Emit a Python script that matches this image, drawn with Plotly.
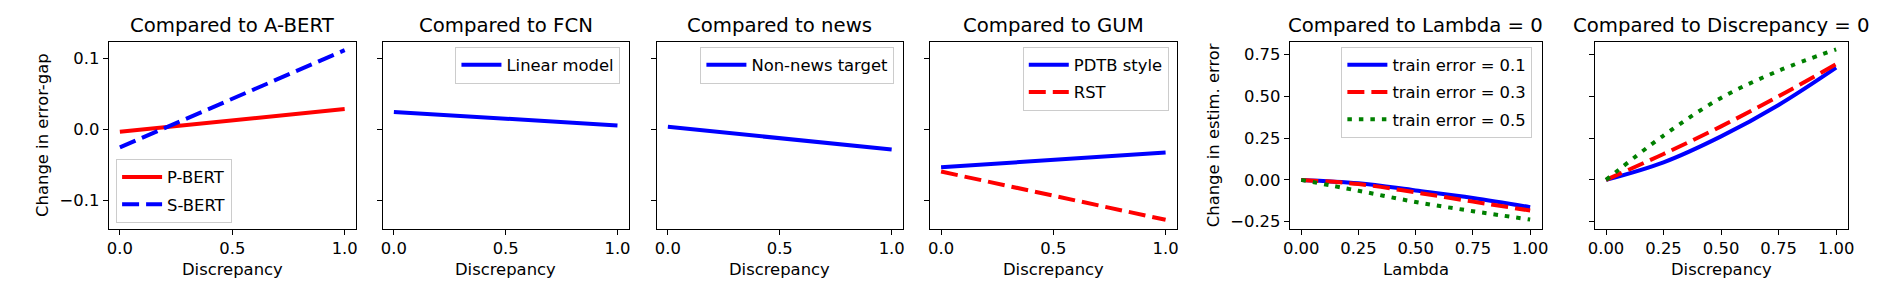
import plotly.graph_objects as go

# ---------------- data ----------------
disc2 = [0.0, 1.0]
pbert = [-0.003, 0.029]
sbert = [-0.025, 0.112]
linear_model = [0.025, 0.006]
non_news = [0.004, -0.028]
pdtb_style = [-0.053, -0.032]
rst = [-0.059, -0.127]

xs5 = [0.0, 0.25, 0.5, 0.75, 1.0]
lam_te01 = [0.0, -0.020, -0.063, -0.108, -0.163]
lam_te03 = [0.0, -0.025, -0.075, -0.130, -0.183]
lam_te05 = [0.0, -0.065, -0.132, -0.187, -0.237]
disc_te01 = [0.0, 0.105, 0.260, 0.448, 0.671]
disc_te03 = [0.0, 0.155, 0.320, 0.500, 0.691]
disc_te05 = [0.0, 0.265, 0.490, 0.652, 0.780]

titles = ["Compared to A-BERT", "Compared to FCN", "Compared to news",
          "Compared to GUM", "Compared to Lambda = 0", "Compared to Discrepancy = 0"]
xlabels = ["Discrepancy", "Discrepancy", "Discrepancy", "Discrepancy", "Lambda", "Discrepancy"]
ylabel_left = "Change in error-gap"
ylabel_right = "Change in estim. error"

xt_a_vals = [0.0, 0.5, 1.0]
xt_a_text = ["0.0", "0.5", "1.0"]
xt_b_vals = [0.0, 0.25, 0.5, 0.75, 1.0]
xt_b_text = ["0.00", "0.25", "0.50", "0.75", "1.00"]
yt_a_vals = [-0.1, 0.0, 0.1]
yt_a_text = ["\u22120.1", "0.0", "0.1"]
yt_b_vals = [-0.25, 0.0, 0.25, 0.5, 0.75]
yt_b_text = ["\u22120.25", "0.00", "0.25", "0.50", "0.75"]

# ---------------- layout geometry (pixels) ----------------
W, H = 1900, 300
FONT = "DejaVu Sans"
panels_px = [(102.4, 351.5), (378.5, 626.3), (654.5, 902.5),
             (929.7, 1178.5), (1292.3, 1546.0), (1599.3, 1854.3)]
top_px, bot_px = 42, 231
ydom = [1 - bot_px / H, 1 - top_px / H]

BLUE, RED, GREEN = "#0000ff", "#ff0000", "#008000"
DASH = "17px,7px"
DOT = "4.5px,7px"
LW = 4

fig = go.Figure()

def add(x, y, name, color, dash, idx, legend, group):
    fig.add_trace(go.Scatter(
        x=x, y=y, mode="lines", name=name,
        line=dict(color=color, width=LW, dash=dash,
                  shape="spline" if len(x) > 2 else "linear", smoothing=1.0),
        xaxis="x" if idx == 1 else f"x{idx}",
        yaxis="y" if idx == 1 else f"y{idx}",
        legend=legend, legendgroup=group, showlegend=legend is not None))

add(disc2, pbert, "P-BERT", RED, "solid", 1, "legend", "a1")
add(disc2, sbert, "S-BERT", BLUE, DASH, 1, "legend", "a2")
add(disc2, linear_model, "Linear model", BLUE, "solid", 2, "legend2", "b1")
add(disc2, non_news, "Non-news target", BLUE, "solid", 3, "legend3", "c1")
add(disc2, pdtb_style, "PDTB style", BLUE, "solid", 4, "legend4", "d1")
add(disc2, rst, "RST", RED, DASH, 4, "legend4", "d2")
add(xs5, lam_te01, "train error = 0.1", BLUE, "solid", 5, "legend5", "e1")
add(xs5, lam_te03, "train error = 0.3", RED, DASH, 5, "legend5", "e2")
add(xs5, lam_te05, "train error = 0.5", GREEN, DOT, 5, "legend5", "e3")
add(xs5, disc_te01, "train error = 0.1", BLUE, "solid", 6, None, "f1")
add(xs5, disc_te03, "train error = 0.3", RED, DASH, 6, None, "f2")
add(xs5, disc_te05, "train error = 0.5", GREEN, DOT, 6, None, "f3")

axis_common = dict(showline=True, mirror=True, linecolor="black", linewidth=1,
                   ticks="outside", ticklen=5, tickwidth=1, tickcolor="black",
                   showgrid=False, zeroline=False,
                   tickfont=dict(family=FONT, size=16.4, color="black"))

layout = dict(width=W, height=H, margin=dict(l=0, r=0, t=0, b=0),
              paper_bgcolor="white", plot_bgcolor="white",
              font=dict(family=FONT, size=16.4, color="black"),
              annotations=[])

for i, (x0, x1) in enumerate(panels_px, start=1):
    xk = "xaxis" if i == 1 else f"xaxis{i}"
    yk = "yaxis" if i == 1 else f"yaxis{i}"
    xr = "x" if i == 1 else f"x{i}"
    yr = "y" if i == 1 else f"y{i}"
    if i <= 4:
        xv, xt, yv, yt, yrng = xt_a_vals, xt_a_text, yt_a_vals, yt_a_text, [-0.1395, 0.1241]
    else:
        xv, xt, yv, yt, yrng = xt_b_vals, xt_b_text, yt_b_vals, yt_b_text, [-0.2917, 0.8266]
    layout[xk] = dict(axis_common, domain=[x0 / W, x1 / W], anchor=yr,
                      range=[-0.05, 1.05], tickmode="array", tickvals=xv, ticktext=xt)
    layout[yk] = dict(axis_common, domain=ydom, anchor=xr, range=yrng,
                      tickmode="array", tickvals=yv, ticktext=yt,
                      showticklabels=(i in (1, 5)))
    cx = (x0 + x1) / 2 / W
    layout["annotations"].append(dict(
        text=titles[i - 1], x=cx, y=1 - 26 / H, xref="paper", yref="paper",
        xanchor="center", yanchor="middle", showarrow=False,
        font=dict(family=FONT, size=19.7, color="black")))
    layout["annotations"].append(dict(
        text=xlabels[i - 1], x=cx, y=1 - 272 / H, xref="paper", yref="paper",
        xanchor="center", yanchor="middle", showarrow=False,
        font=dict(family=FONT, size=16.4, color="black")))

ymid = 1 - (top_px + bot_px) / 2 / H
for txt, xpx in ((ylabel_left, 35), (ylabel_right, 1215)):
    layout["annotations"].append(dict(
        text=txt, x=xpx / W, y=ymid, xref="paper", yref="paper",
        xanchor="center", yanchor="middle", showarrow=False, textangle=-90,
        font=dict(family=FONT, size=16.4, color="black")))

leg_common = dict(bgcolor="rgba(255,255,255,0.8)", bordercolor="#cccccc", borderwidth=1,
                  font=dict(family=FONT, size=16.4, color="black"),
                  tracegroupgap=3, itemwidth=40, xref="paper", yref="paper")
layout["legend"] = dict(leg_common, x=109.9 / W, y=1 - 225 / H, xanchor="left", yanchor="bottom")
layout["legend2"] = dict(leg_common, x=618 / W, y=1 - 47 / H, xanchor="right", yanchor="top")
layout["legend3"] = dict(leg_common, x=894 / W, y=1 - 47 / H, xanchor="right", yanchor="top")
layout["legend4"] = dict(leg_common, x=1170.4 / W, y=1 - 47 / H, xanchor="right", yanchor="top")
layout["legend5"] = dict(leg_common, x=1536.7 / W, y=1 - 47 / H, xanchor="right", yanchor="top")

fig.update_layout(**layout)
fig.write_html("out.html",
               config={"displayModeBar": False},
               post_script="document.body.style.margin='0';"
                           "document.documentElement.style.overflow='hidden';")
